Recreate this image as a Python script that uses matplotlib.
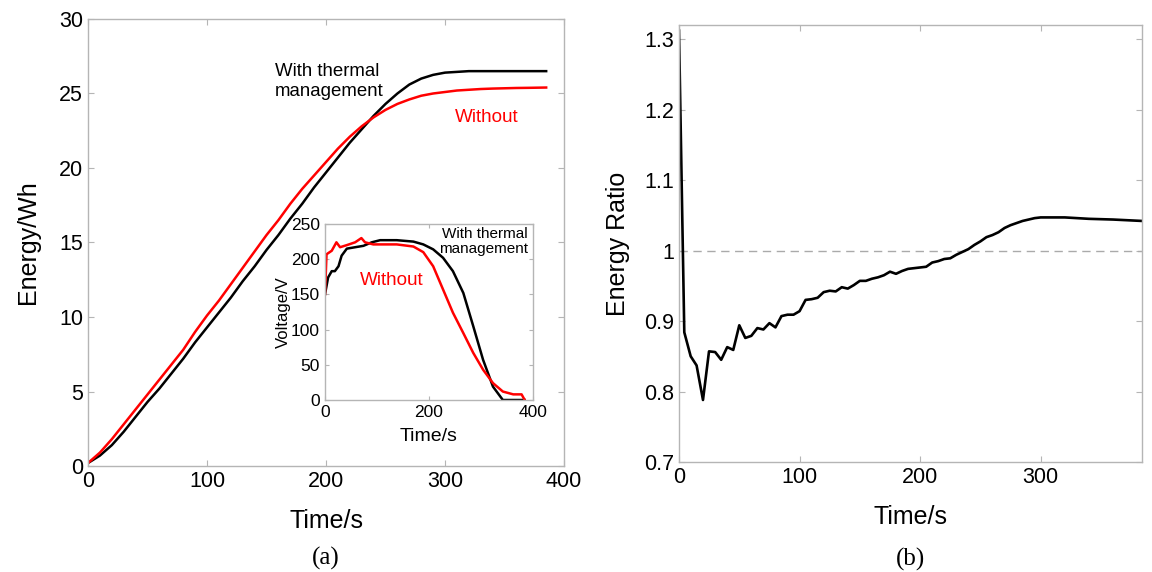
import matplotlib.pyplot as plt

plt.rcParams['font.family'] = ['Liberation Sans', 'DejaVu Sans']

# (a) energy vs time
t_energy = [0, 10, 20, 30, 40, 50, 60, 70, 80, 90, 100, 110, 120, 130, 140, 150, 160, 170,
            180, 190, 200, 210, 220, 230, 240, 250, 260, 270, 280, 290, 300, 310, 320, 330,
            340, 350, 360, 370, 385]
energy_with = [0.2, 0.7, 1.4, 2.3, 3.3, 4.3, 5.2, 6.2, 7.2, 8.3, 9.3, 10.3, 11.3, 12.4, 13.4,
               14.5, 15.5, 16.6, 17.6, 18.7, 19.7, 20.7, 21.7, 22.6, 23.5, 24.3, 25.0, 25.6,
               26.0, 26.25, 26.4, 26.45, 26.5, 26.5, 26.5, 26.5, 26.5, 26.5, 26.5]
energy_without = [0.2, 0.9, 1.8, 2.8, 3.8, 4.8, 5.8, 6.8, 7.8, 9.0, 10.1, 11.1, 12.2, 13.3,
                  14.4, 15.5, 16.5, 17.6, 18.6, 19.5, 20.4, 21.3, 22.1, 22.8, 23.4, 23.9,
                  24.3, 24.6, 24.85, 25.0, 25.1, 25.2, 25.25, 25.3, 25.33, 25.35, 25.37,
                  25.38, 25.4]

# inset: voltage vs time
t_v_with = [0, 6, 13, 19, 26, 32, 42, 58, 74, 90, 106, 138, 170, 189, 208, 227, 246, 266,
            285, 304, 323, 342, 384]
v_with = [150, 174, 183, 183, 190, 205, 215, 217, 219, 224, 227, 227, 225, 221, 214, 202,
          183, 152, 105, 57, 19, 0, 0]
t_v_without = [0, 3, 13, 22, 29, 42, 58, 70, 77, 93, 138, 170, 189, 208, 227, 246, 266, 285,
               304, 323, 342, 362, 378, 384]
v_without = [150, 207, 212, 224, 217, 220, 224, 230, 224, 221, 221, 218, 210, 190, 157, 124,
             95, 67, 43, 24, 12, 8, 8, 0]

# (b) energy ratio
t_ratio = [0, 4.4, 9.7, 14.6, 19.9, 24.9, 30, 35, 40, 45, 50, 55, 60, 65, 70, 75, 80, 85, 90,
           95, 100, 105, 110, 115, 120, 125, 130, 135, 140, 145, 150, 155, 160, 165, 170, 175,
           180, 185, 190, 195, 200, 205, 210, 215, 220, 225, 230, 235, 240, 245, 250, 255,
           260, 265, 270, 275, 280, 285, 290, 295, 300, 310, 320, 340, 360, 384]
ratio = [1.312, 0.884, 0.850, 0.837, 0.788, 0.857, 0.856, 0.845, 0.863, 0.859, 0.894, 0.876,
         0.879, 0.890, 0.888, 0.897, 0.891, 0.907, 0.909, 0.909, 0.914, 0.930, 0.931, 0.933,
         0.941, 0.943, 0.942, 0.948, 0.946, 0.951, 0.957, 0.957, 0.960, 0.962, 0.965, 0.970,
         0.967, 0.971, 0.974, 0.975, 0.976, 0.977, 0.983, 0.985, 0.988, 0.989, 0.994, 0.998,
         1.002, 1.008, 1.013, 1.019, 1.022, 1.026, 1.032, 1.036, 1.039, 1.042, 1.044, 1.046,
         1.047, 1.047, 1.047, 1.045, 1.044, 1.042]

frame = '#b5b5b5'


def style(ax, size):
    for s in ax.spines.values():
        s.set_color(frame)
        s.set_linewidth(1.0)
    ax.tick_params(direction='in', top=True, right=True, color=frame,
                   length=4, labelsize=size, labelcolor='black')


fig = plt.figure(figsize=(11.52, 5.72), dpi=100)

ax1 = fig.add_axes([0.0764, 0.1853, 0.4132, 0.7815])
ax1.plot(t_energy, energy_with, color='black', lw=1.8)
ax1.plot(t_energy, energy_without, color='red', lw=1.8)
ax1.set_xlim(0, 400)
ax1.set_ylim(0, 30)
ax1.set_xticks([0, 100, 200, 300, 400])
ax1.set_yticks([0, 5, 10, 15, 20, 25, 30])
style(ax1, 15.5)
ax1.set_xlabel('Time/s', fontsize=18, labelpad=12)
ax1.set_ylabel('Energy/Wh', fontsize=18, labelpad=14)
ax1.text(157, 25.8, 'With thermal\nmanagement', fontsize=13.4, ha='left', va='center',
         linespacing=1.25)
ax1.text(308, 23.4, 'Without', fontsize=13.6, color='red', ha='left', va='center')
ax1.text(0.5, -0.207, '(a)', transform=ax1.transAxes, ha='center', va='center',
         fontsize=18, family='Liberation Serif')

axi = fig.add_axes([0.2821, 0.3007, 0.1806, 0.3077])
axi.plot(t_v_with, v_with, color='black', lw=1.8)
axi.plot(t_v_without, v_without, color='red', lw=1.8)
axi.set_xlim(0, 400)
axi.set_ylim(0, 250)
axi.set_xticks([0, 200, 400])
axi.set_yticks([0, 50, 100, 150, 200, 250])
style(axi, 12.5)
axi.tick_params(length=3)
axi.set_xlabel('Time/s', fontsize=14, labelpad=6)
axi.set_ylabel('Voltage/V', fontsize=12, labelpad=0)
axi.text(390, 225, 'With thermal\nmanagement', fontsize=11, ha='right', va='center',
         linespacing=1.15)
axi.text(67, 170, 'Without', fontsize=13.6, color='red', ha='left', va='center')

ax2 = fig.add_axes([0.5894, 0.1923, 0.4019, 0.764])
ax2.axhline(1.0, color='#aaaaaa', lw=1.0, ls=(0, (6, 4)))
ax2.plot(t_ratio, ratio, color='black', lw=1.9)
ax2.set_xlim(0, 384)
ax2.set_ylim(0.7, 1.32)
ax2.set_xticks([0, 100, 200, 300])
ax2.set_yticks([0.7, 0.8, 0.9, 1.0, 1.1, 1.2, 1.3])
ax2.set_yticklabels(['0.7', '0.8', '0.9', '1', '1.1', '1.2', '1.3'])
style(ax2, 15.5)
ax2.set_xlabel('Time/s', fontsize=18, labelpad=12)
ax2.set_ylabel('Energy Ratio', fontsize=18, labelpad=10)
ax2.text(0.5, -0.222, '(b)', transform=ax2.transAxes, ha='center', va='center',
         fontsize=18, family='Liberation Serif')

fig.savefig('out.png', dpi=100)
